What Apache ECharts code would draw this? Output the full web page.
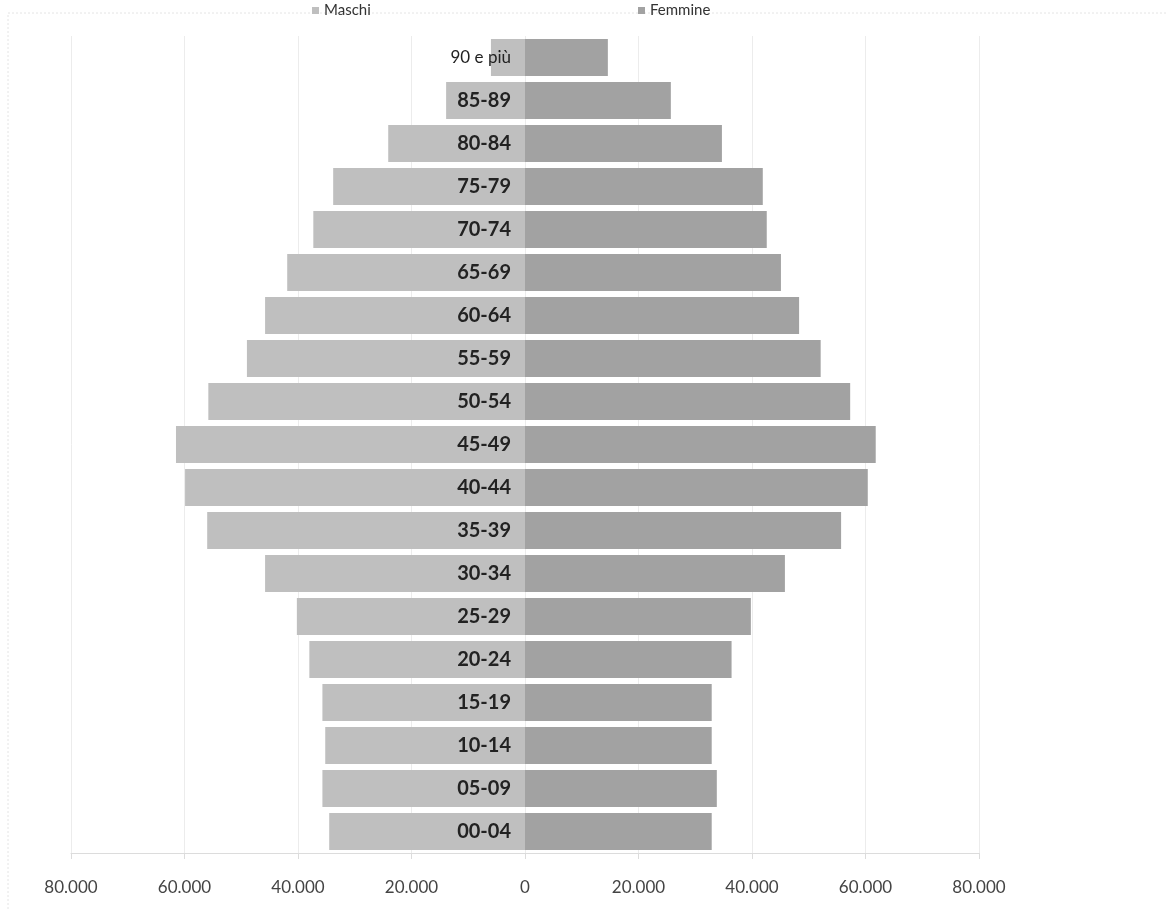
<!DOCTYPE html>
<html>
<head>
<meta charset="utf-8">
<script src="https://cdn.jsdelivr.net/npm/echarts@6/dist/echarts.min.js"></script>
<style>
  html, body { margin: 0; padding: 0; background: #fff; }
  #chart { width: 1168px; height: 909px; }
</style>
</head>
<body>
<div id="chart"></div>
<script>
// Age classes, youngest first (drawn bottom to top)
const ageClasses = ['00-04', '05-09', '10-14', '15-19', '20-24', '25-29', '30-34', '35-39',
  '40-44', '45-49', '50-54', '55-59', '60-64', '65-69', '70-74', '75-79', '80-84', '85-89', '90 e più'];

// Resident population by sex
const maschi = [34500, 35700, 35200, 35700, 38000, 40200, 45800, 56000,
  59900, 61500, 55800, 49000, 45800, 41900, 37300, 33800, 24100, 13900, 6000];
const femmine = [32900, 33800, 32900, 32900, 36400, 39800, 45800, 55700,
  60400, 61800, 57300, 52100, 48300, 45100, 42600, 41900, 34700, 25700, 14600];

const xTicks = [-80000, -60000, -40000, -20000, 0, 20000, 40000, 60000, 80000];

const fontFamily = 'Lato, "Open Sans", sans-serif';

// Plot area; the age axis sits in the middle, on the zero of the value axis
const gridLeft = 71, gridRight = 189;
const plotWidth = 1168 - gridLeft - gridRight;

function formatThousands(v) {
  const n = Math.abs(v);
  return n === 0 ? '0' : String(n).replace(/\B(?=(\d{3})+(?!\d))/g, '.');
}

const chart = echarts.init(document.getElementById('chart'), null, { renderer: 'canvas' });

chart.setOption({
  backgroundColor: '#ffffff',
  animation: false,
  textStyle: { fontFamily: fontFamily },
  graphic: [{
    type: 'rect',
    shape: { x: 8, y: 13, width: 1180, height: 920 },
    style: { fill: 'none', stroke: '#e4e4e4', lineWidth: 1, lineDash: [2, 2] },
    silent: true
  }],
  legend: [{
    data: ['Maschi'],
    left: 307, top: -2,
    itemWidth: 7, itemHeight: 7,
    icon: 'rect',
    textStyle: { fontFamily: fontFamily, fontSize: 15, color: '#333' }
  }, {
    data: ['Femmine'],
    left: 633, top: -2,
    itemWidth: 7, itemHeight: 7,
    icon: 'rect',
    textStyle: { fontFamily: fontFamily, fontSize: 15, color: '#333' }
  }],
  grid: { left: gridLeft, right: gridRight, top: 36, bottom: 56, containLabel: false, outerBoundsMode: 'none' },
  xAxis: {
    type: 'value',
    min: xTicks[0],
    max: xTicks[xTicks.length - 1],
    interval: 20000,
    axisLine: { show: true, onZero: false, lineStyle: { color: '#dcdcdc' } },
    axisTick: { show: true, length: 6, lineStyle: { color: '#dcdcdc' } },
    splitLine: { show: true, lineStyle: { color: '#ececec' } },
    axisLabel: {
      margin: 26,
      fontSize: 17,
      color: '#444',
      fontFamily: fontFamily,
      formatter: formatThousands
    }
  },
  yAxis: {
    type: 'category',
    data: ageClasses,
    position: 'left',
    offset: -plotWidth / 2,
    z: 10,
    axisLine: { show: false, onZero: false },
    axisTick: { show: false },
    splitLine: { show: false },
    axisLabel: {
      margin: 14,
      fontFamily: fontFamily,
      formatter: function (v) {
        return v === '90 e più' ? '{reg|' + v + '}' : '{bold|' + v + '}';
      },
      rich: {
        bold: { fontFamily: fontFamily, fontSize: 20, fontWeight: 'bold', color: '#222' },
        reg: { fontFamily: fontFamily, fontSize: 17, fontWeight: 'normal', color: '#222' }
      }
    }
  },
  series: [{
    name: 'Maschi',
    type: 'bar',
    data: maschi.map(v => -v),
    barGap: '-100%',
    barCategoryGap: '14%',
    itemStyle: { color: '#bfbfbf' }
  }, {
    name: 'Femmine',
    type: 'bar',
    data: femmine,
    barGap: '-100%',
    barCategoryGap: '14%',
    itemStyle: { color: '#a2a2a2' }
  }]
});
</script>
</body>
</html>
